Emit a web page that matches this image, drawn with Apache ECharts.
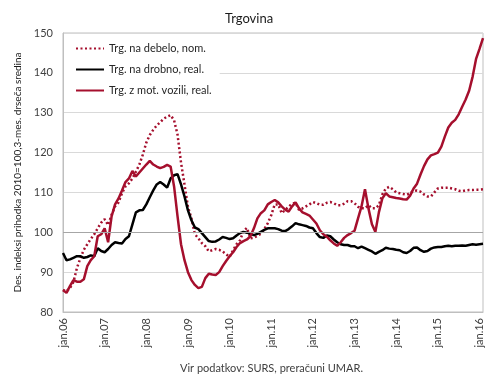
<!DOCTYPE html>
<html>
<head>
<meta charset="utf-8">
<script src="https://cdn.jsdelivr.net/npm/echarts@6/dist/echarts.min.js"></script>
<style>
html,body{margin:0;padding:0;background:#fff;}
#c{width:490px;height:383px;}
</style>
</head>
<body>
<div id="c"></div>
<script>
var yearLabels = ['jan.06','jan.07','jan.08','jan.09','jan.10','jan.11','jan.12','jan.13','jan.14','jan.15','jan.16'];
var nMonths = 122;

var debelo = [
85.5,85.2,86.0,87.5,91.0,93.5,95.6,97.0,98.3,99.5,101.0,102.4,
103.3,101.8,104.4,106.5,107.5,109.8,111.5,112.3,113.5,115.2,117.0,119.5,
122.5,124.4,125.7,126.8,127.6,128.5,129.0,129.4,128.1,124.5,117.5,112.0,
106.4,103.5,99.5,98.5,97.3,96.5,95.2,95.5,95.8,95.6,95.2,94.5,
93.8,95.5,97.0,98.0,100.3,101.1,98.5,98.6,99.1,99.6,100.8,102.3,
104.3,107.0,107.0,104.8,105.6,106.4,107.2,107.4,105.6,106.0,106.5,107.0,
107.6,107.3,106.9,106.9,107.4,107.6,107.3,106.8,106.8,107.2,107.8,107.8,
107.3,106.4,106.0,106.0,106.8,106.0,106.0,106.8,109.5,111.0,111.4,110.8,
110.0,109.8,109.6,109.4,109.8,110.4,110.5,110.2,109.5,109.0,109.0,110.0,
111.0,111.2,111.2,111.2,111.0,110.8,110.4,110.3,110.5,110.6,110.6,110.7,
110.7,110.8];

var drobno = [
94.8,93.0,93.2,93.6,94.0,94.0,93.6,93.8,94.2,94.0,96.0,95.3,
95.0,95.8,96.8,97.5,97.3,97.2,98.3,99.0,102.0,105.0,105.5,105.6,
107.0,108.8,110.5,112.0,112.6,112.0,111.2,113.5,114.3,114.6,112.0,109.0,
105.5,103.0,101.2,100.8,99.8,98.8,97.8,97.6,97.7,98.2,98.8,98.6,
98.3,98.5,99.2,99.8,100.1,99.9,99.6,99.3,99.6,100.1,100.6,101.0,
101.0,101.0,100.8,100.4,100.3,100.8,101.5,102.3,102.0,101.8,101.6,101.2,
101.0,99.8,98.8,98.6,99.2,99.0,98.2,97.5,97.0,96.8,96.8,96.5,
96.5,96.0,96.4,96.0,95.6,95.2,94.6,95.1,95.5,96.1,95.9,95.8,
95.6,95.5,95.0,94.8,95.3,96.1,96.2,95.5,95.1,95.3,95.9,96.2,
96.3,96.3,96.5,96.6,96.5,96.6,96.6,96.7,96.6,96.8,97.0,96.9,
97.0,97.1];

var vozila = [
85.5,84.8,86.5,88.0,87.6,87.6,88.2,91.5,93.0,94.0,99.0,99.5,
101.0,97.5,104.0,107.0,108.5,110.5,112.6,113.5,115.4,114.0,115.0,116.0,
117.0,117.9,117.0,116.5,116.1,116.4,116.9,116.5,111.5,104.0,97.0,93.0,
90.0,88.0,86.8,86.0,86.3,88.5,89.6,89.4,89.3,90.0,91.5,92.8,
94.0,95.0,96.3,97.3,97.8,98.2,99.0,101.0,103.5,104.8,105.5,107.0,
107.6,108.1,107.5,106.5,105.7,105.2,106.5,107.5,106.0,105.0,104.6,104.2,
103.2,102.2,100.5,99.5,98.9,98.0,97.2,96.6,97.5,98.6,99.3,99.8,
100.4,103.5,106.5,110.8,106.0,102.0,100.1,105.0,108.5,109.8,109.0,108.8,
108.6,108.5,108.3,108.2,109.2,111.0,112.2,114.5,116.6,118.3,119.3,119.6,
120.0,121.5,124.0,126.3,127.5,128.2,129.6,131.5,133.3,135.5,139.0,143.5,
146.0,148.7];

var seriesNames = ['Trg. na debelo, nom.','Trg. na drobno, real.','Trg. z mot. vozili, real.'];
var yTicks = [80,90,100,110,120,130,140,150];

var categories = [];
for (var i = 0; i < nMonths; i++) {
  categories.push(i % 12 === 0 ? yearLabels[i / 12] : 'm' + i);
}

var FONT = 'Lato, "Open Sans", sans-serif';
var RED = '#a50f2d';

var chart = echarts.init(document.getElementById('c'), null, {renderer: 'canvas'});
chart.setOption({
  animation: false,
  backgroundColor: '#fff',
  textStyle: {fontFamily: FONT},
  title: {
    text: 'Trgovina',
    left: 244, top: 7, textAlign: 'center',
    textStyle: {fontFamily: FONT, fontSize: 13, fontWeight: 'normal', color: '#1a1a1a'}
  },
  legend: {
    data: seriesNames,
    orient: 'vertical',
    left: 64, top: 39,
    itemWidth: 28, itemHeight: 12, itemGap: 10,
    backgroundColor: '#fff',
    padding: [4, 8, 4, 11],
    itemStyle: {opacity: 0},
    textStyle: {fontFamily: FONT, fontSize: 11, color: '#262626'}
  },
  grid: {
    left: 63, right: 7, top: 33, bottom: 71,
    show: true, borderColor: '#bfbfbf', borderWidth: 1, backgroundColor: 'transparent'
  },
  xAxis: {
    type: 'category',
    data: categories,
    boundaryGap: false,
    axisLine: {show: true, lineStyle: {color: '#bfbfbf'}},
    axisTick: {show: false},
    splitLine: {show: false},
    axisLabel: {
      rotate: 90,
      fontFamily: FONT, fontSize: 11, color: '#404040', margin: 6,
      interval: function (idx) { return idx % 12 === 0; },
      formatter: function (v) { return v.charAt(0) === 'm' ? '' : v; }
    }
  },
  yAxis: {
    type: 'value',
    min: yTicks[0], max: yTicks[yTicks.length - 1], interval: 10,
    name: 'Des. indeksi prihodka 2010=100,3-mes. drseča sredina',
    nameLocation: 'middle', nameGap: 40, nameRotate: 90,
    nameTextStyle: {fontFamily: FONT, fontSize: 10, color: '#1a1a1a'},
    axisLine: {show: true, lineStyle: {color: '#bfbfbf'}},
    axisTick: {show: false},
    axisLabel: {fontFamily: FONT, fontSize: 11, color: '#404040', margin: 10},
    splitLine: {show: true, lineStyle: {color: '#d9d9d9', width: 1}}
  },
  graphic: [{
    type: 'text', left: 180, top: 363,
    style: {text: 'Vir podatkov: SURS, preračuni UMAR.', fontFamily: FONT, fontSize: 11, fill: '#404040'}
  }],
  series: [
    {
      name: '_ref', type: 'line', data: [], z: 1, silent: true,
      markLine: {
        silent: true, symbol: 'none', label: {show: false},
        lineStyle: {color: '#a6a6a6', type: 'solid', width: 1},
        data: [{yAxis: 100}]
      }
    },
    {
      name: seriesNames[0], type: 'line', data: debelo, showSymbol: false, symbol: 'none',
      color: RED, lineStyle: {color: RED, width: 2.5, type: [2, 2.5]}
    },
    {
      name: seriesNames[1], type: 'line', data: drobno, showSymbol: false, symbol: 'none',
      color: '#000', lineStyle: {color: '#000', width: 2.5}
    },
    {
      name: seriesNames[2], type: 'line', data: vozila, showSymbol: false, symbol: 'none',
      color: RED, lineStyle: {color: RED, width: 2.5}
    }
  ]
});
</script>
</body>
</html>
